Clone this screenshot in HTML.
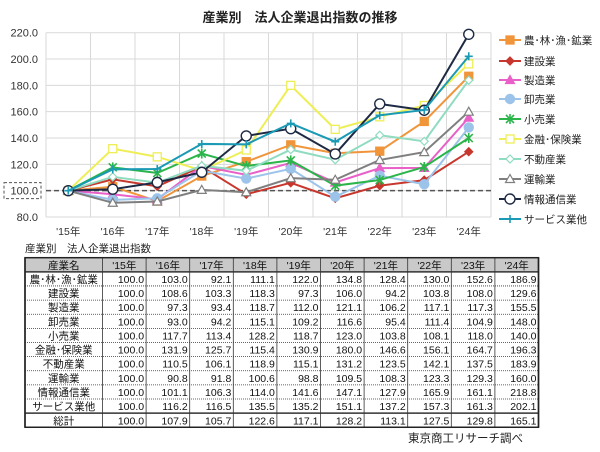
<!DOCTYPE html>
<html><head><meta charset="utf-8">
<style>
body{margin:0;background:#fff;}
#wrap{position:relative;width:600px;height:452px;overflow:hidden;font-family:"Liberation Sans","Noto Sans CJK JP",sans-serif;}
svg text{font-family:"Liberation Sans","Noto Sans CJK JP",sans-serif;}
</style></head>
<body>
<div id="wrap">
<svg id="svg" width="600" height="452"></svg>
</div>
<script>
const years=["'15年","'16年","'17年","'18年","'19年","'20年","'21年","'22年","'23年","'24年"];
const yTicks=[80,100,120,140,160,180,200,220];
const names=["農･林･漁･鉱業","建設業","製造業","卸売業","小売業","金融･保険業","不動産業","運輸業","情報通信業","サービス業他"];
const s0=[100.0,103.0,92.1,111.1,122.0,134.8,128.4,130.0,152.6,186.9];
const s1=[100.0,108.6,103.3,118.3,97.3,106.0,94.2,103.8,108.0,129.6];
const s2=[100.0,97.3,93.4,118.7,112.0,121.1,106.2,117.1,117.3,155.5];
const s3=[100.0,93.0,94.2,115.1,109.2,116.6,95.4,111.4,104.9,148.0];
const s4=[100.0,117.7,113.4,128.2,118.7,123.0,103.8,108.1,118.0,140.0];
const s5=[100.0,131.9,125.7,115.4,130.9,180.0,146.6,156.1,164.7,196.3];
const s6=[100.0,110.5,106.1,118.9,115.1,131.2,123.5,142.1,137.5,183.9];
const s7=[100.0,90.8,91.8,100.6,98.8,109.5,108.3,123.3,129.3,160.0];
const s8=[100.0,101.1,106.3,114.0,141.6,147.1,127.9,165.9,161.1,218.8];
const s9=[100.0,116.2,116.5,135.5,135.2,151.1,137.2,157.3,161.3,202.1];
const total=[100.0,107.9,105.7,122.6,117.1,128.2,113.1,127.5,129.8,165.1];
const series=[s0,s1,s2,s3,s4,s5,s6,s7,s8,s9];
const colors=["#f0953a","#c8372d","#e860c8","#9cc3ea","#2bb54a","#eeee55","#90dcc0","#7f7f7f","#1e2a44","#1a9ab4"];
const markers=["sq","dia","tri","circ","star","hsq","hdia","htri","hcirc","plus"];

const NS="http://www.w3.org/2000/svg";
const svg=document.getElementById('svg');
function mk(tag,attrs,parent){const e=document.createElementNS(NS,tag);for(const k in attrs)e.setAttribute(k,attrs[k]);(parent||svg).appendChild(e);return e;}
const PL=46,PR=491,PT=32.7,PB=217;
const x=i=>PL+(PR-PL)/years.length*(i+0.5);
const y=v=>PB-(v-80)/(220-80)*(PB-PT);

let t=mk('text',{x:300,y:22,'text-anchor':'middle','font-size':13,'font-weight':'bold',fill:'#222'});
t.textContent='産業別　法人企業退出指数の推移';



for(const v of yTicks){
 const g=mk('line',{x1:PL,x2:PR,y1:y(v),y2:y(v),stroke:'#d9d9d9','stroke-width':1});
 
 
 const l=mk('text',{x:38,y:y(v)+4,'text-anchor':'end','font-size':11,fill:'#333'});
 l.textContent=v.toFixed(1);
 
 
}
for(let i=0;i<=years.length;i++){
 const xx=PL+(PR-PL)/years.length*i;
 const g=mk('line',{x1:xx,x2:xx,y1:PT,y2:PB,stroke:'#d9d9d9','stroke-width':1});
 
 
}
years.forEach((yr,i)=>{
 const l=mk('text',{x:x(i),y:235,'text-anchor':'middle','font-size':10.5,fill:'#333'});
 l.textContent=yr;
 
 
});
let d=mk('line',{x1:PL,x2:PR,y1:y(100),y2:y(100),stroke:'#555','stroke-width':1.5,'stroke-dasharray':'5,3'});


d=mk('rect',{x:4,y:y(100)-8,width:37,height:16,fill:'none',stroke:'#555','stroke-dasharray':'3,2'});



function marker(type,cx,cy,c,parent){
 let e;
 const hollow=type[0]=='h';
 const fill=hollow?'#fff':c;
 switch(type){
  case 'sq':case 'hsq':e=mk('rect',{x:cx-4,y:cy-4,width:8,height:8,fill,stroke:c,'stroke-width':1.3},parent);break;
  case 'dia':case 'hdia':e=mk('path',{d:`M${cx},${cy-4}L${cx+4},${cy}L${cx},${cy+4}L${cx-4},${cy}Z`,fill,stroke:c,'stroke-width':1.2},parent);break;
  case 'tri':case 'htri':e=mk('path',{d:`M${cx},${cy-4.5}L${cx+4.5},${cy+3.5}L${cx-4.5},${cy+3.5}Z`,fill,stroke:c,'stroke-width':1.2},parent);break;
  case 'circ':case 'hcirc':e=mk('circle',{cx,cy,r:hollow?5:4.5,fill,stroke:c,'stroke-width':1.4},parent);break;
  case 'star':e=mk('path',{d:`M${cx-4},${cy-4}L${cx+4},${cy+4}M${cx-4},${cy+4}L${cx+4},${cy-4}M${cx},${cy-5}L${cx},${cy+5}`,stroke:c,'stroke-width':1.6,fill:'none'},parent);break;
  case 'plus':e=mk('path',{d:`M${cx-4},${cy}L${cx+4},${cy}M${cx},${cy-4}L${cx},${cy+4}`,stroke:c,'stroke-width':1.6,fill:'none'},parent);break;
 }
 return e;
}
series.forEach((s,k)=>{
 const g=mk('g',{});
 
 
 const p=mk('polyline',{points:s.map((v,i)=>x(i)+','+y(v)).join(' '),fill:'none',stroke:colors[k],'stroke-width':2},g);
 
 
 s.forEach((v,i)=>{
  const m=marker(markers[k],x(i),y(v),colors[k],g);
  
  
 });
 const ly=[40,61,80,99,119,139,159,179,199,219][k];
 const lg=mk('g',{});
 
 
 mk('line',{x1:499,x2:521,y1:ly,y2:ly,stroke:colors[k],'stroke-width':2},lg);
 marker(markers[k],510,ly,colors[k],lg);
 const lt=mk('text',{x:524,y:ly+4,'font-size':10.5,fill:'#222'},lg);
 lt.textContent=names[k];
});

const TL=25,FC=77.5,CW=43.6,TT=257.7,RH=14.13;
let c=mk('text',{x:25,y:252,'font-size':10.5,fill:'#222'});
c.textContent='産業別　法人企業退出指数';


const tg=mk('g',{});


const TW=FC+CW*10;
mk('rect',{x:TL,y:TT,width:TW,height:RH,fill:'#c9c9c9'},tg);
const rows=[["産業名",...years]];
names.forEach((n,k)=>rows.push([n,...series[k].map(v=>v.toFixed(1))]));
rows.push(["総計",...total.map(v=>v.toFixed(1))]);
rows.forEach((r,ri)=>{
 const ry=TT+RH*ri;
 r.forEach((cell,ci)=>{
  const cx=ci==0?TL+FC/2:TL+FC+CW*(ci-1)+(ri==0?CW/2:CW-2);
  const tx=mk('text',{x:cx,y:ry+RH-3,'font-size':10.5,fill:'#111','text-anchor':(ci==0||ri==0)?'middle':'end'},tg);
  tx.textContent=cell;
 });
 if(ri>0){mk('line',{x1:TL,x2:TL+TW,y1:ry,y2:ry,stroke:'#333','stroke-width':(ri==1||ri==11)?1.5:0.8,'stroke-dasharray':(ri==1||ri==11)?'':'1,1'},tg);}
});
for(let ci=0;ci<=11;ci++){
 const xx=ci==0?TL:TL+FC+CW*(ci-1);
 mk('line',{x1:xx,x2:xx,y1:TT,y2:TT+RH*12,stroke:'#333','stroke-width':ci==0||ci==11?1.5:0.8},tg);
}
mk('rect',{x:TL,y:TT,width:TW,height:RH*12,fill:'none',stroke:'#222','stroke-width':1.5},tg);
let f=mk('text',{x:523,y:442,'text-anchor':'end','font-size':11.5,fill:'#222'});
f.textContent='東京商工リサーチ調べ';


</script>
</body></html>
